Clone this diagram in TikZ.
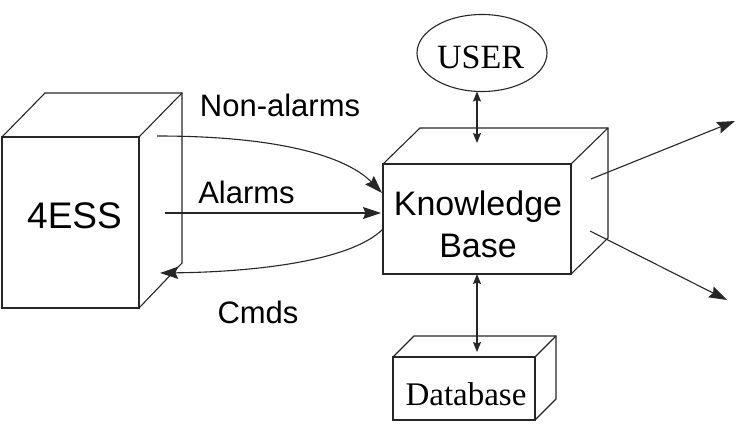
\documentclass[tikz,border=0pt]{standalone}
\usepackage{fontspec}
\setmainfont{Liberation Serif}
\setsansfont{Liberation Sans}
\usetikzlibrary{arrows.meta,shapes.geometric}
\tikzset{
  x=1pt, y=-1pt,
  ln/.style={line width=1.1pt, draw=black!85},
  face/.style={ln, rectangle, inner sep=0pt, outer sep=0pt},
  big/.style={-{Stealth[length=18pt,width=12pt,inset=2.5pt]}},
  dbl/.style={{Stealth[length=10pt,width=8pt,inset=1.5pt]}-{Stealth[length=10pt,width=8pt,inset=1.5pt]}},
  lab/.style={font=\sffamily\fontsize{31}{34}\selectfont, inner sep=0pt},
}
\begin{document}
\begin{tikzpicture}
\useasboundingbox (0,0) rectangle (738,425);
% 4ESS box
\node[face, minimum width=137pt, minimum height=171pt] (ess) at (70.5,222.5) {};
\draw[ln] (ess.north west) -- ++(43,-44) -- ++(137,0) -- ++(0,170) -- (ess.south east);
\draw[ln] (ess.north east) -- ++(43,-44);
\node[font=\sffamily\fontsize{37}{40}\selectfont, inner sep=0pt] (esstext) at (74.5,216) {4ESS};
% Knowledge base box
\node[face, minimum width=188pt, minimum height=110pt] (kb) at (477,219) {};
\draw[ln] (kb.north west) -- ++(37,-36) -- ++(188,0) -- ++(0,110) -- (kb.south east);
\draw[ln] (kb.north east) -- ++(37,-36);
\node[font=\sffamily\fontsize{34}{42}\selectfont, align=center, inner sep=0pt] (kbtext) at (478,224) {Knowledge\\Base};
% Database box
\node[face, minimum width=142pt, minimum height=63pt] (db) at (464,388.5) {};
\draw[ln] (db.north west) -- ++(21,-21) -- ++(142,0) -- ++(0,63) -- (db.south east);
\draw[ln] (db.north east) -- ++(21,-21);
\node[font=\rmfamily\fontsize{33}{36}\selectfont, inner sep=0pt] (dbtext) at (466,394) {Database};
% USER ellipse
\node[ln, ellipse, minimum width=130pt, minimum height=77pt, inner sep=0pt, outer sep=0pt] (user) at (482,53) {};
\node[font=\rmfamily\fontsize{34}{36}\selectfont, inner sep=0pt] (usertext) at (480.5,57.5) {USER};
% coordinates
\coordinate (kbtop) at (477,143);
\coordinate (dbtop) at (477,352);
\coordinate (naStart) at (157,136);
\coordinate (naEnd) at (382,193);
\coordinate (alStart) at (165,213);
\coordinate (alEnd) at (381,213);
\coordinate (cmStart) at (383,229);
\coordinate (cmEnd) at (160,273);
\coordinate (o1s) at (591,179);
\coordinate (o1e) at (735,121);
\coordinate (o2s) at (590,231);
\coordinate (o2e) at (727,300);
% connectors
\draw[ln, dbl] (user.south -| kbtop) -- (kbtop);
\draw[ln, dbl] (kb.south -| dbtop) -- (dbtop);
\draw[ln, big] (naStart) .. controls (290,136) and (350,160) .. (naEnd);
\draw[ln, big] (alStart) -- (alEnd);
\draw[ln, big] (cmStart) .. controls (350,262) and (250,272) .. (cmEnd);
\draw[ln, big] (o1s) -- (o1e);
\draw[ln, big] (o2s) -- (o2e);
% labels
\node[lab] (lna) at (280,105) {Non-alarms};
\node[lab] (lal) at (246.5,192) {Alarms};
\node[lab] (lcm) at (258,312) {Cmds};
\end{tikzpicture}
\end{document}
